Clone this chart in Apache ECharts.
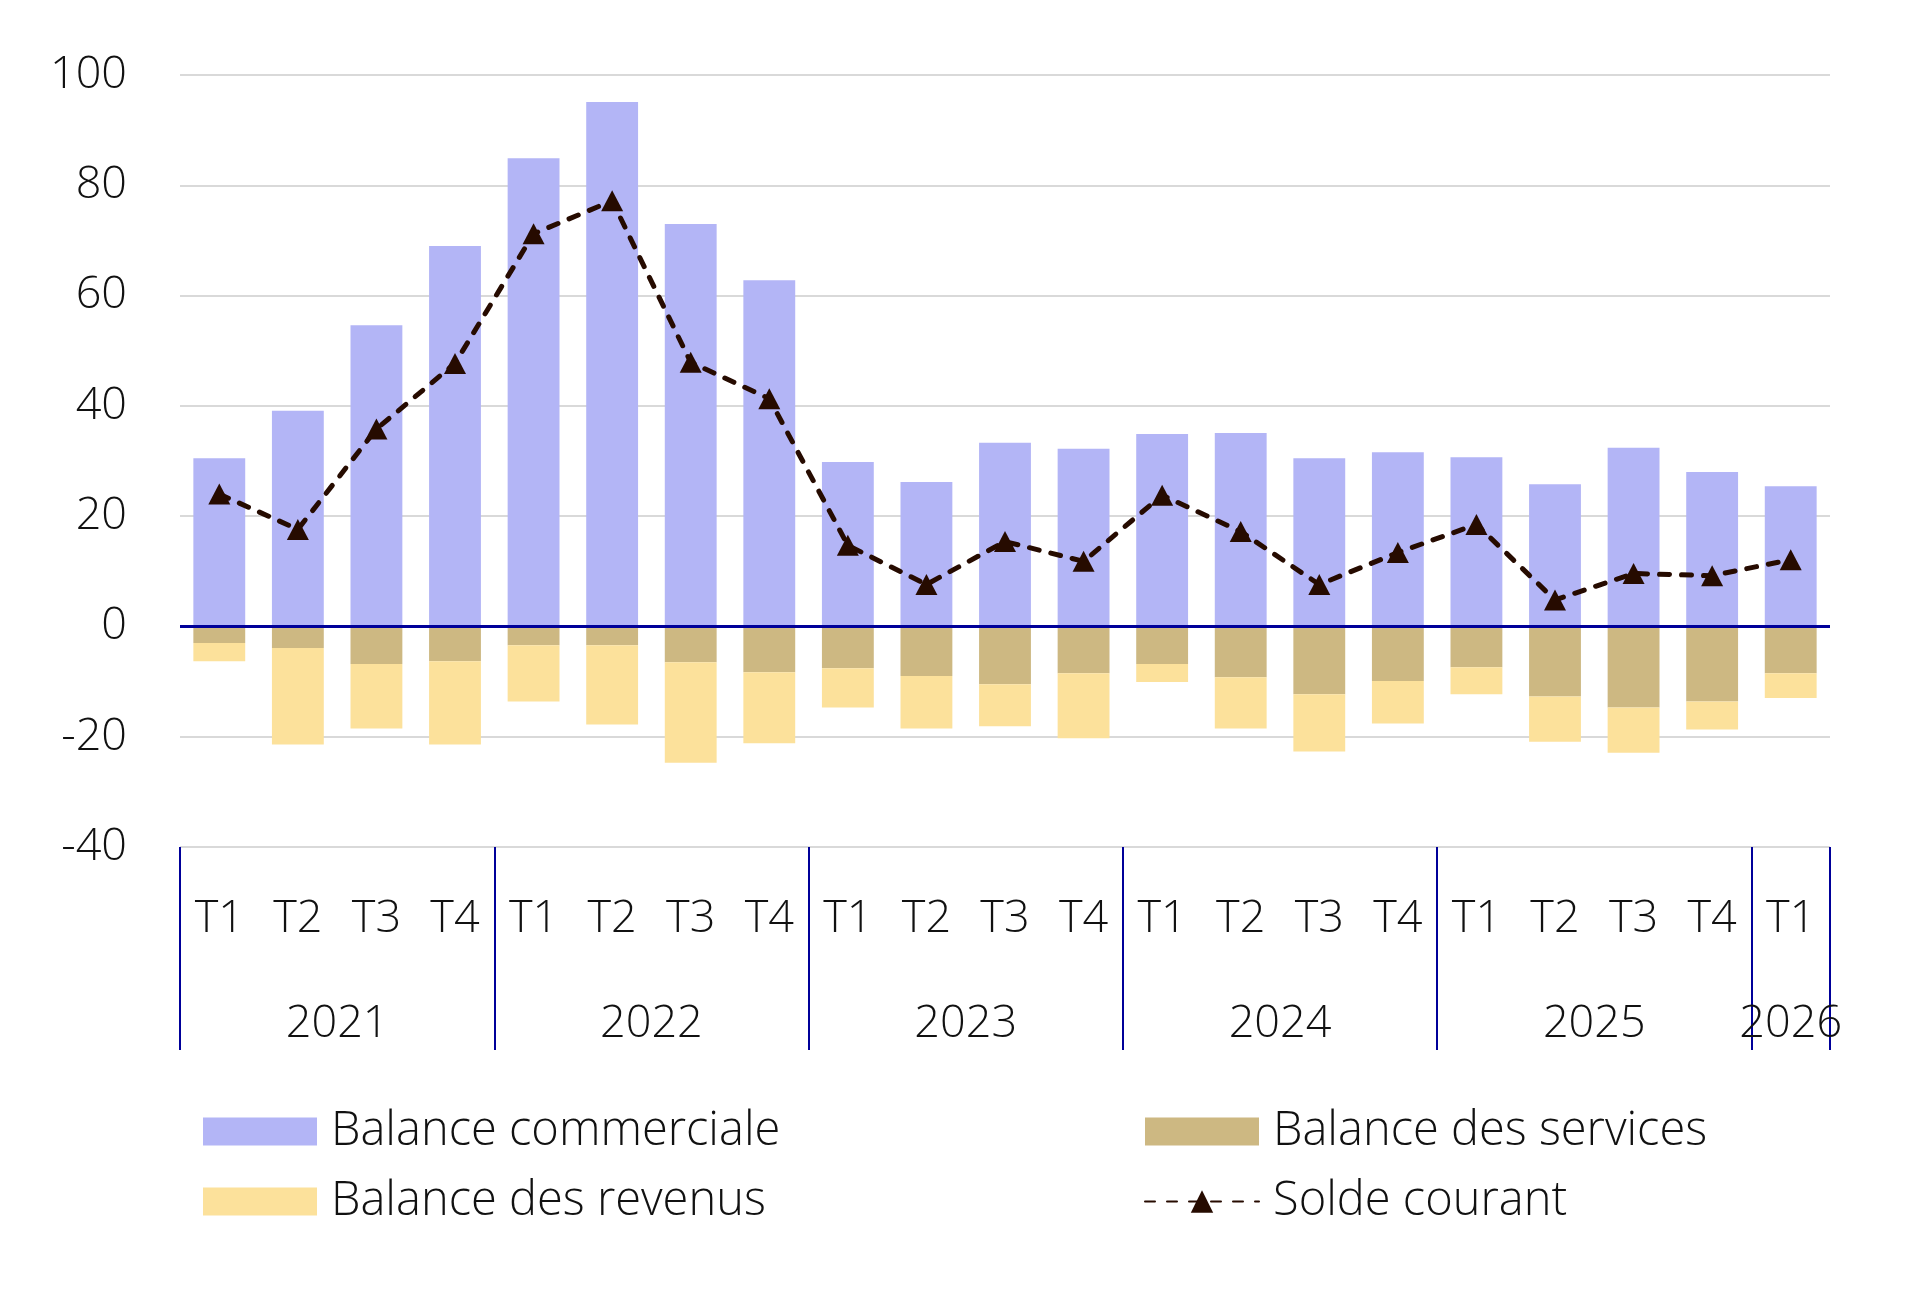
<!DOCTYPE html>
<html>
<head>
<meta charset="utf-8">
<script src="https://cdn.jsdelivr.net/npm/echarts@6/dist/echarts.min.js"></script>
<style>
  html, body { margin: 0; padding: 0; background: #fff; }
  #chart { width: 1915px; height: 1292px; }
</style>
</head>
<body>
<div id="chart"></div>
<script>
// Years and number of quarters shown for each
const years = ['2021', '2022', '2023', '2024', '2025', '2026'];
const quartersPerYear = [4, 4, 4, 4, 4, 1];
const quarterNames = ['T1', 'T2', 'T3', 'T4'];

// Values (Md€)
const balanceCommerciale = [30.5, 39.1, 54.6, 69.0, 84.9, 95.1, 73.0, 62.8, 29.8, 26.2, 33.3, 32.2, 34.9, 35.1, 30.5, 31.6, 30.7, 25.8, 32.4, 28.0, 25.4];
const balanceServices = [-3.0, -3.9, -6.8, -6.3, -3.4, -3.4, -6.5, -8.3, -7.6, -9.0, -10.5, -8.5, -6.8, -9.2, -12.3, -9.9, -7.4, -12.7, -14.7, -13.6, -8.5];
const balanceRevenus = [-3.3, -17.5, -11.7, -15.1, -10.2, -14.4, -18.2, -12.9, -7.1, -9.5, -7.6, -11.8, -3.3, -9.3, -10.4, -7.7, -4.9, -8.2, -8.2, -5.1, -4.5];
const soldeCourant = [24.0, 17.6, 35.8, 47.7, 71.2, 77.2, 47.9, 41.3, 14.7, 7.6, 15.4, 11.8, 23.8, 17.2, 7.6, 13.4, 18.5, 4.8, 9.6, 9.2, 12.1];

const yMin = -40, yMax = 100, yStep = 20;

const FONT = "'Open Sans', Lato, sans-serif";
const TEXT = '#111';
const NAVY = '#000099';

// build quarter categories + year group boundaries
const categories = [];
const groupStarts = [];
years.forEach((y, i) => {
  groupStarts.push(categories.length);
  for (let q = 0; q < quartersPerYear[i]; q++) categories.push(quarterNames[q]);
});
const yearCenters = years.map((y, i) => groupStarts[i] + quartersPerYear[i] / 2);

const chart = echarts.init(document.getElementById('chart'));

const legendText = { fontFamily: FONT, fontSize: 47, fontWeight: 300, color: TEXT, lineHeight: 45, padding: [0, 0, 0, 9] };

const option = {
  animation: false,
  backgroundColor: '#fff',
  grid: { left: 180, right: 85, top: 75, bottom: 445, containLabel: false },
  legend: [
    {
      left: 198, top: 1103, orient: 'vertical',
      itemWidth: 114, itemHeight: 28, itemGap: 23,
      selectedMode: false,
      textStyle: legendText,
      data: [{ name: 'Balance commerciale', icon: 'rect' }, { name: 'Balance des revenus', icon: 'rect' }]
    },
    {
      left: 1139, top: 1103, orient: 'vertical',
      itemWidth: 114, itemHeight: 28, itemGap: 23,
      selectedMode: false,
      textStyle: legendText,
      data: [{ name: 'Balance des services', icon: 'rect' }, { name: 'Solde courant' }]
    }
  ],
  xAxis: [
    {
      type: 'category',
      data: categories,
      position: 'bottom',
      boundaryGap: true,
      axisLine: { show: false, onZero: false },
      axisTick: {
        show: true,
        interval: (i) => groupStarts.includes(i),
        length: 203,
        lineStyle: { color: NAVY, width: 2 }
      },
      axisLabel: { interval: 0, margin: 50, fontFamily: FONT, fontSize: 45, fontWeight: 300, color: TEXT, lineHeight: 45 },
      splitLine: { show: false }
    },
    {
      // year labels, centred under each group of quarters
      type: 'value',
      min: 0,
      max: categories.length,
      interval: 0.5,
      position: 'bottom',
      axisLine: { show: false, onZero: false },
      axisTick: { show: false },
      splitLine: { show: false },
      axisLabel: {
        margin: 155,
        fontFamily: FONT, fontSize: 45, fontWeight: 300, color: TEXT, lineHeight: 45,
        formatter: (v) => {
          const k = yearCenters.indexOf(v);
          return k >= 0 ? years[k] : '';
        }
      }
    }
  ],
  yAxis: {
    type: 'value',
    min: yMin, max: yMax, interval: yStep,
    axisLine: { show: false },
    axisTick: { show: false },
    axisLabel: { margin: 53, fontFamily: FONT, fontSize: 45, fontWeight: 300, color: TEXT },
    splitLine: { lineStyle: { color: '#d9d9d9', width: 2 } }
  },
  series: [
    {
      name: 'Balance commerciale', type: 'bar', stack: 'total',
      barWidth: '66%',
      itemStyle: { color: '#b3b5f6' },
      data: balanceCommerciale
    },
    {
      name: 'Balance des services', type: 'bar', stack: 'total',
      barWidth: '66%',
      itemStyle: { color: '#cdb882' },
      data: balanceServices
    },
    {
      name: 'Balance des revenus', type: 'bar', stack: 'total',
      barWidth: '66%',
      itemStyle: { color: '#fce19b' },
      data: balanceRevenus,
      markLine: {
        silent: true,
        symbol: 'none',
        label: { show: false },
        lineStyle: { color: NAVY, width: 3, type: 'solid' },
        data: [{ yAxis: 0 }]
      }
    },
    {
      name: 'Solde courant', type: 'line',
      data: soldeCourant,
      z: 5,
      symbol: 'triangle',
      symbolSize: [22, 21],
      itemStyle: { color: '#260b00' },
      lineStyle: { color: '#260b00', width: 5, type: [10, 12], cap: 'round' }
    }
  ]
};

chart.setOption(option);
</script>
</body>
</html>
